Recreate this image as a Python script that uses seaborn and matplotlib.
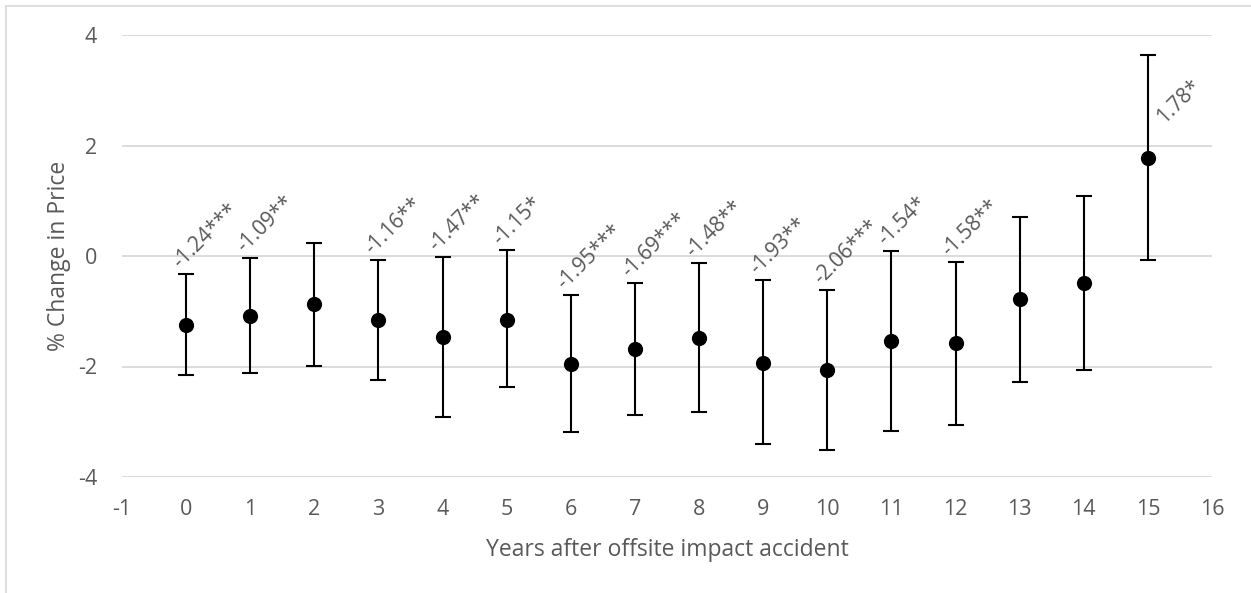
import matplotlib
matplotlib.use("Agg")
import matplotlib.pyplot as plt
from matplotlib.lines import Line2D
import seaborn as sns
import pandas as pd
import numpy as np

years = [0, 1, 2, 3, 4, 5, 6, 7, 8, 9, 10, 11, 12, 13, 14, 15]
effect = [-1.24, -1.09, -0.87, -1.16, -1.47, -1.15, -1.95, -1.69, -1.48, -1.93, -2.06, -1.54, -1.58, -0.78, -0.49, 1.78]
upper = [-0.33, -0.04, 0.24, -0.08, -0.01, 0.10, -0.71, -0.49, -0.12, -0.43, -0.62, 0.09, -0.11, 0.71, 1.09, 3.63]
lower = [-2.15, -2.11, -1.99, -2.24, -2.92, -2.37, -3.18, -2.88, -2.82, -3.41, -3.51, -3.16, -3.05, -2.28, -2.06, -0.07]
labels = ["-1.24***", "-1.09**", "", "-1.16**", "-1.47**", "-1.15*", "-1.95***", "-1.69***",
          "-1.48**", "-1.93**", "-2.06***", "-1.54*", "-1.58**", "", "", "1.78*"]
xticks = list(range(-1, 17))
yticks = [-4, -2, 0, 2, 4]

df = pd.DataFrame({"year": years, "effect": effect, "upper": upper, "lower": lower, "label": labels})

sns.set_theme(style="white")
plt.rcParams["font.family"] = ["Open Sans", "DejaVu Sans"]
plt.rcParams["axes.unicode_minus"] = False
grey = "#595959"

fig = plt.figure(figsize=(12.51, 5.93), dpi=100)
ax = fig.add_axes([122 / 1251, 1 - 477 / 593, (1212 - 122) / 1251, (477 - 35) / 593])

for yv in yticks:
    ax.axhline(yv, color="#d9d9d9", lw=1.3, zorder=0)

yerr = np.vstack([df["effect"] - df["lower"], df["upper"] - df["effect"]])
ax.errorbar(df["year"], df["effect"], yerr=yerr, fmt="none", ecolor="black",
            elinewidth=1.5, capsize=5.5, capthick=1.5, zorder=2)
sns.scatterplot(data=df, x="year", y="effect", ax=ax, color="black", s=120,
                edgecolor="black", linewidth=0, zorder=3)

lab_fs = 15
for _, r in df.iterrows():
    if not r["label"]:
        continue
    if r["effect"] > 0:
        ax.annotate(r["label"], (r["year"], r["effect"]), xytext=(14, 22),
                    textcoords="offset points", rotation=45, rotation_mode="anchor",
                    ha="left", va="bottom", fontsize=lab_fs, color=grey)
    else:
        ax.annotate(r["label"], (r["year"], r["upper"]), xytext=(-2, 1),
                    textcoords="offset points", rotation=45, rotation_mode="anchor",
                    ha="left", va="bottom", fontsize=lab_fs, color=grey)

ax.set_xlim(-1, 16)
ax.set_ylim(-4, 4)
ax.set_xticks(xticks)
ax.set_yticks(yticks)
ax.tick_params(axis="both", length=0, labelsize=15.5, labelcolor=grey)
ax.tick_params(axis="x", pad=16)
ax.tick_params(axis="y", pad=18)
for s in ax.spines.values():
    s.set_visible(False)
ax.set_xlabel("Years after offsite impact accident", fontsize=16.5, color=grey, labelpad=13)
ax.set_ylabel("% Change in Price", fontsize=16.5, color=grey, labelpad=5)

# outer chart frame
fig.add_artist(Line2D([6 / 1251, 1.0], [1 - 6 / 593, 1 - 6 / 593], color="#d9d9d9", lw=1.2))
fig.add_artist(Line2D([6 / 1251, 6 / 1251], [0, 1 - 6 / 593], color="#d9d9d9", lw=1.2))

fig.savefig("out.png", dpi=100)
